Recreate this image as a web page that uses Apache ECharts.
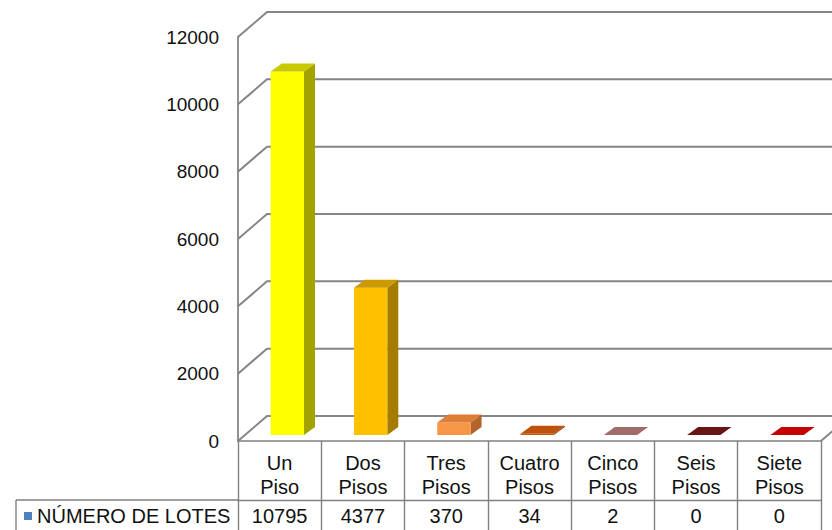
<!DOCTYPE html>
<html>
<head>
<meta charset="utf-8">
<script src="https://cdn.jsdelivr.net/npm/echarts@6/dist/echarts.min.js"></script>
<style>
  html, body { margin: 0; padding: 0; background: #fff; }
  #chart { width: 832px; height: 530px; }
</style>
</head>
<body>
<div id="chart"></div>
<script>
// Lots by number of floors
const categories = ['Un\nPiso', 'Dos\nPisos', 'Tres\nPisos', 'Cuatro\nPisos', 'Cinco\nPisos', 'Seis\nPisos', 'Siete\nPisos'];
const lotes = [10795, 4377, 370, 34, 2, 0, 0];
const seriesName = 'NÚMERO DE LOTES';
const yTicks = [0, 2000, 4000, 6000, 8000, 10000, 12000];

// Face colours of each column (front, right side, top)
const frontColors = ['#FFFF00', '#FFC000', '#F79646', '#C65A12', '#A87474', '#6E1616', '#C00000'];
const sideColors  = ['#A3A300', '#A67C00', '#B3642C', '#8A3E08', '#7A5050', '#4A0E0E', '#8A0000'];
const topColors   = ['#C9C900', '#CC9900', '#DC7D38', '#BE520C', '#A06C6A', '#661414', '#C40000'];

const GRID_LEFT = 238, GRID_RIGHT = 11, GRID_TOP = 37, GRID_BOTTOM = 89;
const WALL_DX = 29, WALL_DY = -25;   // back wall offset
const BAR_DX = 7.7, BAR_DY = -6;     // column placement inside the floor depth
const DEPTH_X = 11, DEPTH_Y = -8;    // column thickness
const LINE = '#858585';

const chart = echarts.init(document.getElementById('chart'), null, { renderer: 'svg' });

function renderWall(params, api) {
  const cs = params.coordSys;
  const v = api.value(1);
  const y = api.coord([0, v])[1];
  const x0 = cs.x;
  const x1 = cs.x + cs.width;
  const children = [{
    type: 'polyline',
    shape: { points: [[x0, y], [x0 + WALL_DX, y + WALL_DY], [832, y + WALL_DY]] },
    style: { stroke: LINE, lineWidth: 2, fill: null }
  }];
  if (v === 0) {
    children.push({
      type: 'line',
      shape: { x1: x1, y1: y, x2: x1 + WALL_DX, y2: y + WALL_DY },
      style: { stroke: LINE, lineWidth: 2 }
    });
  }
  return { type: 'group', children: children };
}

function renderColumn(params, api) {
  const i = api.value(0);
  const v = api.value(1);
  const base = api.coord([i, 0]);
  const top = api.coord([i, v]);
  const band = api.size([1, 0])[0];
  const w = band * 0.4;
  const fx0 = base[0] + BAR_DX - w / 2;
  const fx1 = fx0 + w;
  const by = base[1] + BAR_DY;
  const ty = top[1] + BAR_DY;
  const children = [];
  if (by - ty > 0.3) {
    children.push({
      type: 'polygon',
      shape: { points: [[fx1, ty], [fx1 + DEPTH_X, ty + DEPTH_Y], [fx1 + DEPTH_X, by + DEPTH_Y], [fx1, by]] },
      style: { fill: sideColors[i] }
    });
    children.push({
      type: 'rect',
      shape: { x: fx0, y: ty, width: w, height: by - ty },
      style: { fill: frontColors[i] }
    });
  }
  children.push({
    type: 'polygon',
    shape: { points: [[fx0, ty], [fx0 + DEPTH_X, ty + DEPTH_Y], [fx1 + DEPTH_X, ty + DEPTH_Y], [fx1, ty]] },
    style: { fill: topColors[i] }
  });
  return { type: 'group', children: children };
}

const textFont = { fontFamily: 'Liberation Sans, Arial, sans-serif', color: '#111' };

chart.setOption({
  animation: false,
  backgroundColor: '#fff',
  grid: { left: GRID_LEFT, right: GRID_RIGHT, top: GRID_TOP, bottom: GRID_BOTTOM },
  legend: {
    data: [seriesName],
    left: 24, top: 506, padding: 0,
    itemWidth: 8, itemHeight: 8, itemGap: 0,
    icon: 'rect',
    textStyle: Object.assign({ fontSize: 20, lineHeight: 20 }, textFont)
  },
  xAxis: [{
    type: 'category',
    data: categories,
    position: 'bottom',
    axisLine: { show: true, lineStyle: { color: '#808080', width: 1.6 } },
    axisTick: { show: true, length: 89, lineStyle: { color: '#808080', width: 1.4 } },
    axisLabel: Object.assign({ interval: 0, fontSize: 20, lineHeight: 24, margin: 10 }, textFont),
    splitLine: { show: false }
  }, {
    type: 'category',
    data: categories,
    position: 'bottom',
    offset: 59,
    axisLine: { show: true, lineStyle: { color: '#808080', width: 1.4 } },
    axisTick: { show: false },
    axisLabel: Object.assign({
      interval: 0, fontSize: 20, lineHeight: 20, margin: 6,
      formatter: function (val, idx) { return String(lotes[idx]); }
    }, textFont)
  }],
  yAxis: {
    type: 'value',
    min: 0, max: 12000, interval: 2000,
    axisLine: { show: true, lineStyle: { color: '#858585', width: 1.8 } },
    axisTick: { show: false },
    splitLine: { show: false },
    axisLabel: Object.assign({
      fontSize: 19, margin: 19,
      formatter: function (v) { return String(v); }
    }, textFont)
  },
  graphic: [
    { type: 'line', shape: { x1: 16, y1: 500, x2: GRID_LEFT, y2: 500 }, style: { stroke: '#808080', lineWidth: 1.4 } },
    { type: 'line', shape: { x1: 16, y1: 500, x2: 16, y2: 530 }, style: { stroke: '#808080', lineWidth: 1.4 } }
  ],
  series: [{
    type: 'custom',
    name: 'wall',
    silent: true,
    z: 1,
    renderItem: renderWall,
    data: yTicks.map(function (t) { return [0, t]; })
  }, {
    type: 'custom',
    name: seriesName,
    z: 3,
    itemStyle: { color: '#4F81BD' },
    renderItem: renderColumn,
    encode: { x: 0, y: 1 },
    data: lotes.map(function (v, i) { return [i, v]; })
  }]
});
</script>
</body>
</html>
